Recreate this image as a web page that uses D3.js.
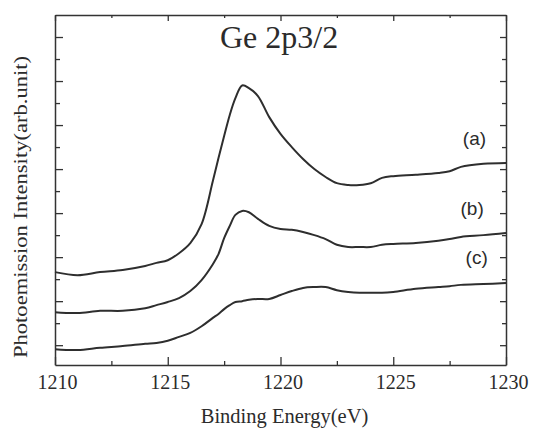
<!DOCTYPE html>
<html>
<head>
<meta charset="utf-8">
<script src="https://cdn.jsdelivr.net/npm/d3@7"></script>
<style>
  body { margin: 0; background: #fff; }
  .axis path, .axis line { stroke: #333; }
  .axis path { stroke-width: 1.5; }
  .axis line { stroke-width: 1.3; }
</style>
</head>
<body>
<script>
// binding energy grid (eV)
var energy = [1210, 1211, 1212, 1213, 1214, 1214.5, 1215, 1215.5, 1216, 1216.5,
              1217, 1217.25, 1217.5, 1217.75, 1218, 1218.3, 1218.6, 1219, 1219.5, 1220,
              1220.5, 1221, 1221.5, 1222, 1222.5, 1223, 1223.5, 1224, 1224.5, 1225,
              1226, 1227, 1227.5, 1228, 1229, 1230];

// photoemission intensity (arb. unit)
var seriesA = [1.66, 1.59, 1.66, 1.71, 1.80, 1.87, 1.93, 2.09, 2.32, 2.75,
               3.73, 4.25, 4.75, 5.23, 5.61, 5.90, 5.84, 5.66, 5.18, 4.80,
               4.50, 4.23, 4.00, 3.82, 3.68, 3.64, 3.64, 3.68, 3.80, 3.84,
               3.87, 3.91, 3.95, 4.05, 4.12, 4.14];
var seriesB = [0.75, 0.73, 0.78, 0.78, 0.84, 0.91, 0.98, 1.07, 1.23, 1.48,
               1.84, 2.07, 2.43, 2.71, 2.96, 3.05, 3.02, 2.87, 2.71, 2.64,
               2.62, 2.57, 2.50, 2.41, 2.28, 2.23, 2.23, 2.23, 2.28, 2.30,
               2.32, 2.37, 2.41, 2.46, 2.50, 2.55];
var seriesC = [-0.09, -0.11, -0.06, -0.02, 0.03, 0.05, 0.10, 0.19, 0.28, 0.43,
               0.62, 0.71, 0.82, 0.91, 0.98, 1.00, 1.03, 1.05, 1.05, 1.14,
               1.23, 1.30, 1.32, 1.32, 1.25, 1.21, 1.19, 1.19, 1.19, 1.21,
               1.28, 1.32, 1.34, 1.37, 1.39, 1.41];

var seriesNames = ["(a)", "(b)", "(c)"];
var labelPos = [[1228.6, 4.55], [1228.5, 2.95], [1228.7, 1.85]]; // [eV, arb] for curve labels

var xMajor = [1210, 1215, 1220, 1225, 1230];
var xMinor = [1212.5, 1217.5, 1222.5, 1227.5];
var yMajor = [0, 1, 2, 3, 4, 5, 6, 7];
var yMinor = [0.5, 1.5, 2.5, 3.5, 4.5, 5.5, 6.5];

var serifFont = "'Liberation Serif', 'Times New Roman', Times, 'DejaVu Serif', serif",
    sansFont = "'Liberation Sans', Arial, Helvetica, sans-serif",
    ink = "#2b2b2b";

var width = 533,
    height = 428,
    margin = {top: 15, right: 27, bottom: 63, left: 55};

var svg = d3.select("body").append("svg")
    .attr("width", width)
    .attr("height", height);

var x = d3.scaleLinear().domain([1210, 1230]).range([margin.left, width - margin.right]);
var y = d3.scaleLinear().domain([-0.45, 7.5]).range([height - margin.bottom, margin.top]);

var x0 = x.range()[0], x1 = x.range()[1],
    y0 = y.range()[0], y1 = y.range()[1];

// frame: four axes with inward ticks
function addAxis(axis, tx, ty) {
  return svg.append("g").attr("class", "axis")
      .attr("transform", "translate(" + tx + "," + ty + ")")
      .call(axis);
}

var bottom = addAxis(d3.axisBottom(x).tickValues(xMajor).tickSizeInner(-8).tickSizeOuter(0).tickPadding(10)
    .tickFormat(d3.format("d")), 0, y0);
bottom.attr("font-family", serifFont).attr("font-size", 20);
bottom.selectAll("text").attr("fill", ink).attr("dx", 2);
addAxis(d3.axisBottom(x).tickValues(xMinor).tickSizeInner(-4).tickSizeOuter(0).tickFormat(""), 0, y0)
    .select("path").remove();

addAxis(d3.axisTop(x).tickValues(xMajor).tickSizeInner(-6).tickSizeOuter(0).tickFormat(""), 0, y1);
addAxis(d3.axisTop(x).tickValues(xMinor).tickSizeInner(-3).tickSizeOuter(0).tickFormat(""), 0, y1)
    .select("path").remove();

addAxis(d3.axisLeft(y).tickValues(yMajor).tickSizeInner(-8).tickSizeOuter(0).tickFormat(""), x0, 0);
addAxis(d3.axisLeft(y).tickValues(yMinor).tickSizeInner(-5).tickSizeOuter(0).tickFormat(""), x0, 0)
    .select("path").remove();

addAxis(d3.axisRight(y).tickValues(yMajor).tickSizeInner(-6).tickSizeOuter(0).tickFormat(""), x1, 0);
addAxis(d3.axisRight(y).tickValues(yMinor).tickSizeInner(-4).tickSizeOuter(0).tickFormat(""), x1, 0)
    .select("path").remove();

// spectra
var line = d3.line()
    .x(function(d) { return x(d[0]); })
    .y(function(d) { return y(d[1]); })
    .curve(d3.curveCatmullRom.alpha(0.5));

var series = [seriesA, seriesB, seriesC];

svg.selectAll(".spectrum")
    .data(series)
  .enter().append("path")
    .attr("class", "spectrum")
    .attr("fill", "none")
    .attr("stroke", "#2e2e2e")
    .attr("stroke-width", 2)
    .attr("stroke-linejoin", "round")
    .attr("d", function(vals) { return line(d3.zip(energy, vals)); });

svg.selectAll(".curve-label")
    .data(seriesNames)
  .enter().append("text")
    .attr("class", "curve-label")
    .attr("font-family", sansFont)
    .attr("font-size", 19)
    .attr("fill", ink)
    .attr("text-anchor", "middle")
    .attr("x", function(d, i) { return x(labelPos[i][0]); })
    .attr("y", function(d, i) { return y(labelPos[i][1]); })
    .text(function(d) { return d; });

// titles
svg.append("text")
    .attr("font-family", serifFont)
    .attr("font-size", 32)
    .attr("fill", ink)
    .attr("x", 220)
    .attr("y", 48)
    .text("Ge 2p3/2");

svg.append("text")
    .attr("font-family", serifFont)
    .attr("font-size", 20.5)
    .attr("fill", ink)
    .attr("text-anchor", "middle")
    .attr("x", (x0 + x1) / 2 + 4)
    .attr("y", 423)
    .text("Binding Energy(eV)");

svg.append("text")
    .attr("font-family", serifFont)
    .attr("font-size", 19)
    .attr("fill", ink)
    .attr("text-anchor", "middle")
    .attr("transform", "translate(27," + ((y0 + y1) / 2 + 17) + ") rotate(-90)")
    .attr("textLength", 302)
    .attr("lengthAdjust", "spacingAndGlyphs")
    .text("Photoemission Intensity(arb.unit)");
</script>
</body>
</html>
